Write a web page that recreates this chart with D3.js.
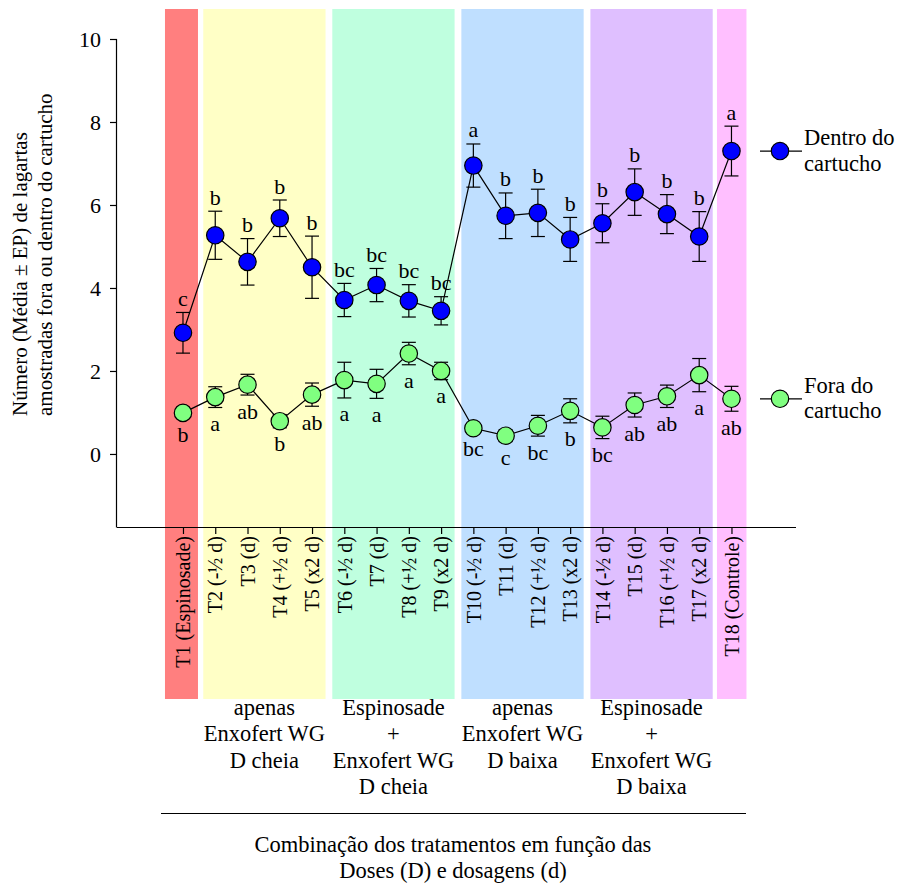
<!DOCTYPE html>
<html>
<head>
<meta charset="utf-8">
<script src="https://cdn.jsdelivr.net/npm/d3@7"></script>
<style>
  body { margin: 0; background: #fff; }
  text { font-family: "Liberation Serif", "Times New Roman", serif; fill: #000; }
</style>
</head>
<body>
<div id="chart"></div>
<script>
// dados
var tratamentos = ["T1 (Espinosade)", "T2 (-½ d)", "T3 (d)", "T4 (+½ d)", "T5 (x2 d)",
  "T6 (-½ d)", "T7 (d)", "T8 (+½ d)", "T9 (x2 d)",
  "T10 (-½ d)", "T11 (d)", "T12 (+½ d)", "T13 (x2 d)",
  "T14 (-½ d)", "T15 (d)", "T16 (+½ d)", "T17 (x2 d)", "T18 (Controle)"];

var dentroMedia = [2.92, 5.27, 4.63, 5.68, 4.50, 3.71, 4.07, 3.69, 3.45, 6.95, 5.74, 5.81, 5.17, 5.56, 6.31, 5.78, 5.24, 7.30];
var dentroEP = [0.49, 0.58, 0.56, 0.44, 0.75, 0.40, 0.40, 0.39, 0.34, 0.52, 0.55, 0.57, 0.53, 0.47, 0.56, 0.47, 0.60, 0.60];
var dentroLetras = ["c", "b", "b", "b", "b", "bc", "bc", "bc", "bc", "a", "b", "b", "b", "b", "b", "b", "b", "a"];

var foraMedia = [0.99, 1.37, 1.67, 0.79, 1.43, 1.78, 1.69, 2.42, 2.00, 0.62, 0.44, 0.68, 1.04, 0.64, 1.18, 1.39, 1.90, 1.33];
var foraEP = [0.13, 0.25, 0.25, 0.16, 0.28, 0.43, 0.35, 0.27, 0.21, 0.11, 0.14, 0.25, 0.29, 0.27, 0.29, 0.27, 0.40, 0.30];
var foraLetras = ["b", "a", "ab", "b", "ab", "a", "a", "a", "a", "bc", "c", "bc", "b", "bc", "ab", "ab", "a", "ab"];

var yTicks = [0, 2, 4, 6, 8, 10];

// grupos de tratamentos (indices inicial e final)
var grupoInicio = [0, 1, 5, 9, 13, 17];
var grupoFim = [0, 4, 8, 12, 16, 17];
var grupoCores = ["#ff7f7f", "#ffffc6", "#bfffdf", "#bfdfff", "#dfbfff", "#ffbfff"];
var grupoRotulos = [
  [],
  ["apenas", "Enxofert WG", "D cheia"],
  ["Espinosade", "+", "Enxofert WG", "D cheia"],
  ["apenas", "Enxofert WG", "D baixa"],
  ["Espinosade", "+", "Enxofert WG", "D baixa"],
  []
];

var series = [
  { nome: ["Dentro do", "cartucho"], media: dentroMedia, ep: dentroEP, letras: dentroLetras, cor: "#0000ff", acima: true },
  { nome: ["Fora do", "cartucho"], media: foraMedia, ep: foraEP, letras: foraLetras, cor: "#80ff80", acima: false }
];

// parametros
var width = 897;
var height = 883;
var fonte = 22.5;       // textos horizontais
var fonteTick = 20;     // rotulos dos tratamentos
var fonteY = 21;        // titulo do eixo y
var raio = 8.7;
var capa = 7;

var svg = d3.select("#chart").append("svg")
  .attr("width", width)
  .attr("height", height);

/* Escalas */
var xScale = d3.scaleLinear()
  .domain([-2.045, 19])
  .range([117, 796]);

var yScale = d3.scaleLinear()
  .domain([-1.76, 10])
  .range([527, 39]);

/* Faixas coloridas */
grupoInicio.forEach(function (ini, i) {
  var fim = grupoFim[i];
  var padEsq = i === 0 ? 18 : (ini === fim ? 14.5 : 12);
  var padDir = ini === fim ? 15 : 13.5;
  var x0 = xScale(ini) - padEsq;
  var x1 = xScale(fim) + padDir;
  svg.append("rect")
    .attr("x", x0)
    .attr("y", 9)
    .attr("width", x1 - x0)
    .attr("height", 690)
    .attr("fill", grupoCores[i]);

  svg.append("g").selectAll("text")
    .data(grupoRotulos[i]).enter()
    .append("text")
    .attr("x", (x0 + x1) / 2)
    .attr("y", (d, j) => 715 + j * 26.3)
    .attr("text-anchor", "middle")
    .style("font-size", fonte + "px")
    .text(d => d);
});

/* Eixos */
var yAxis = d3.axisLeft(yScale).tickValues(yTicks).tickSize(7).tickPadding(9);
var gy = svg.append("g")
  .attr("transform", "translate(117,0)")
  .call(yAxis);
gy.select(".domain").attr("d", "M-0.5,39V527.5").attr("stroke-width", 1.2);
gy.selectAll(".tick line").attr("stroke-width", 1.2);
gy.selectAll(".tick text")
  .style("font-size", "22px")
  .style("font-family", '"Liberation Serif", serif');

var xAxis = d3.axisBottom(xScale).tickValues(d3.range(tratamentos.length)).tickSize(7).tickFormat("");
var gx = svg.append("g")
  .attr("transform", "translate(0,527)")
  .call(xAxis);
gx.select(".domain").attr("d", "M117,0.5H796").attr("stroke-width", 1.2);
gx.selectAll(".tick line").attr("stroke-width", 1.2);

svg.append("g").selectAll("text")
  .data(tratamentos).enter()
  .append("text")
  .attr("transform", (d, i) => `translate(${xScale(i)}, 536) rotate(-90)`)
  .attr("text-anchor", "end")
  .attr("dy", "0.36em")
  .style("font-size", fonteTick + "px")
  .text(d => d);

/* Titulo do eixo y */
svg.append("text")
  .attr("transform", "translate(27,416) rotate(-90)")
  .style("font-size", fonteY + "px")
  .text("Número (Média ± EP) de lagartas");
svg.append("text")
  .attr("transform", "translate(52,416) rotate(-90)")
  .style("font-size", fonteY + "px")
  .text("amostradas fora ou dentro do cartucho");

/* Linha e titulo do eixo x */
svg.append("line")
  .attr("x1", 161).attr("x2", 746)
  .attr("y1", 813.5).attr("y2", 813.5)
  .attr("stroke", "#000").attr("stroke-width", 1.2);

svg.append("text")
  .attr("x", 453).attr("y", 852)
  .attr("text-anchor", "middle")
  .style("font-size", fonte + "px")
  .text("Combinação dos tratamentos em função das");
svg.append("text")
  .attr("x", 453).attr("y", 878)
  .attr("text-anchor", "middle")
  .style("font-size", fonte + "px")
  .text("Doses (D) e dosagens (d)");

/* Series */
var linha = d3.line()
  .x((d, i) => xScale(i))
  .y(d => yScale(d));

series.forEach(function (s) {
  var g = svg.append("g");

  g.append("path")
    .attr("d", linha(s.media))
    .attr("fill", "none")
    .attr("stroke", "#000")
    .attr("stroke-width", 1.2);

  var barras = g.selectAll(".barra")
    .data(s.media).enter()
    .append("g")
    .attr("class", "barra")
    .attr("stroke", "#000")
    .attr("stroke-width", 1.2);

  barras.append("line")
    .attr("x1", (d, i) => xScale(i)).attr("x2", (d, i) => xScale(i))
    .attr("y1", (d, i) => yScale(d + s.ep[i])).attr("y2", (d, i) => yScale(d - s.ep[i]));
  barras.append("line")
    .attr("x1", (d, i) => xScale(i) - capa).attr("x2", (d, i) => xScale(i) + capa)
    .attr("y1", (d, i) => yScale(d + s.ep[i])).attr("y2", (d, i) => yScale(d + s.ep[i]));
  barras.append("line")
    .attr("x1", (d, i) => xScale(i) - capa).attr("x2", (d, i) => xScale(i) + capa)
    .attr("y1", (d, i) => yScale(d - s.ep[i])).attr("y2", (d, i) => yScale(d - s.ep[i]));

  g.selectAll("circle")
    .data(s.media).enter()
    .append("circle")
    .attr("cx", (d, i) => xScale(i))
    .attr("cy", d => yScale(d))
    .attr("r", raio)
    .attr("fill", s.cor)
    .attr("stroke", "#000")
    .attr("stroke-width", 1.2);

  g.selectAll(".letra")
    .data(s.letras).enter()
    .append("text")
    .attr("class", "letra")
    .attr("x", (d, i) => xScale(i))
    .attr("y", (d, i) => s.acima
      ? yScale(s.media[i] + s.ep[i]) - 6.5
      : yScale(s.media[i] - s.ep[i]) + 23.5)
    .attr("text-anchor", "middle")
    .style("font-size", "22px")
    .text(d => d);

  /* Legenda */
  var yLeg = yScale(s.media[s.media.length - 1]);
  var leg = svg.append("g");
  leg.append("line")
    .attr("x1", 760).attr("x2", 802)
    .attr("y1", yLeg).attr("y2", yLeg)
    .attr("stroke", "#000").attr("stroke-width", 1.2);
  leg.append("circle")
    .attr("cx", 780).attr("cy", yLeg)
    .attr("r", raio)
    .attr("fill", s.cor)
    .attr("stroke", "#000")
    .attr("stroke-width", 1.2);
  leg.selectAll("text")
    .data(s.nome).enter()
    .append("text")
    .attr("x", 804)
    .attr("y", (d, j) => yLeg - 6 + j * 25.5)
    .style("font-size", fonte + "px")
    .text(d => d);
});
</script>
</body>
</html>
